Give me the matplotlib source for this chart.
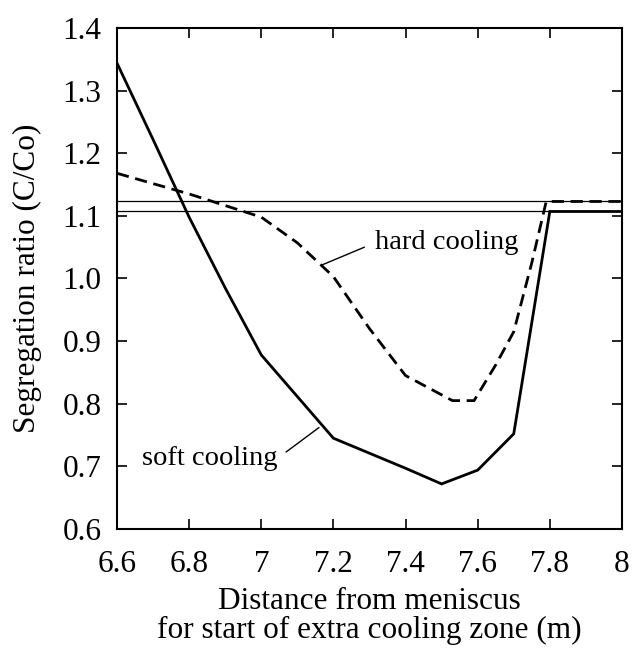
import matplotlib
matplotlib.use("Agg")
import matplotlib.pyplot as plt

# values
soft_x = [6.6, 6.7, 6.8, 6.9, 7.0, 7.2, 7.4, 7.5, 7.6, 7.7, 7.8, 8.0]
soft_y = [1.344, 1.222, 1.098, 0.985, 0.878, 0.745, 0.697, 0.672, 0.694, 0.752, 1.107, 1.107]

hard_x = [6.6, 6.8, 7.0, 7.1, 7.2, 7.3, 7.4, 7.53, 7.59, 7.65, 7.7, 7.75, 7.79, 8.0]
hard_y = [1.168, 1.135, 1.098, 1.057, 1.003, 0.92, 0.845, 0.805, 0.805, 0.862, 0.915, 1.025, 1.123, 1.123]

reference_levels = [1.123, 1.107]

x_ticks = [6.6, 6.8, 7.0, 7.2, 7.4, 7.6, 7.8, 8.0]
x_tick_labels = ["6.6", "6.8", "7", "7.2", "7.4", "7.6", "7.8", "8"]
y_ticks = [0.6, 0.7, 0.8, 0.9, 1.0, 1.1, 1.2, 1.3, 1.4]
y_tick_labels = ["0.6", "0.7", "0.8", "0.9", "1.0", "1.1", "1.2", "1.3", "1.4"]

plt.rcParams["font.family"] = ["Liberation Serif", "DejaVu Serif"]


def main():
    fig = plt.figure(figsize=(6.34, 6.51), dpi=100)
    ax = fig.add_axes([0.1845, 0.1874, 0.7965, 0.7696])

    for level in reference_levels:
        ax.axhline(level, color="black", lw=0.9)

    ax.plot(soft_x, soft_y, color="black", lw=2.0, solid_joinstyle="miter")
    ax.plot(hard_x, hard_y, color="black", lw=2.0, linestyle=(0, (4.4, 2.4)))

    ax.set_xlim(6.6, 8.0)
    ax.set_ylim(0.6, 1.4)
    ax.set_xticks(x_ticks)
    ax.set_xticklabels(x_tick_labels)
    ax.set_yticks(y_ticks)
    ax.set_yticklabels(y_tick_labels)

    ax.tick_params(direction="in", length=7, width=1.2, labelsize=22.5,
                   top=True, right=True)
    ax.tick_params(axis="y", pad=11)
    ax.tick_params(axis="x", pad=15)
    for spine in ax.spines.values():
        spine.set_linewidth(1.5)

    ax.set_ylabel("Segregation ratio (C/Co)", fontsize=22.5)
    ax.yaxis.set_label_coords(-0.148, 0.5)
    ax.set_xlabel("Distance from meniscus\nfor start of extra cooling zone (m)",
                  fontsize=22.5, linespacing=1.0, labelpad=6)

    ax.annotate("hard cooling", xy=(7.17, 1.022), xytext=(7.315, 1.057),
                fontsize=20.5, ha="left", va="center",
                arrowprops=dict(arrowstyle="-", lw=1.0, color="black",
                                shrinkA=6, shrinkB=0, relpos=(0, 0.5)))
    ax.annotate("soft cooling", xy=(7.16, 0.762), xytext=(6.67, 0.713),
                fontsize=20.5, ha="left", va="center",
                arrowprops=dict(arrowstyle="-", lw=1.0, color="black",
                                shrinkA=5, shrinkB=0, relpos=(1, 0.5)))

    fig.savefig("out.png", dpi=100)


if __name__ == "__main__":
    main()
